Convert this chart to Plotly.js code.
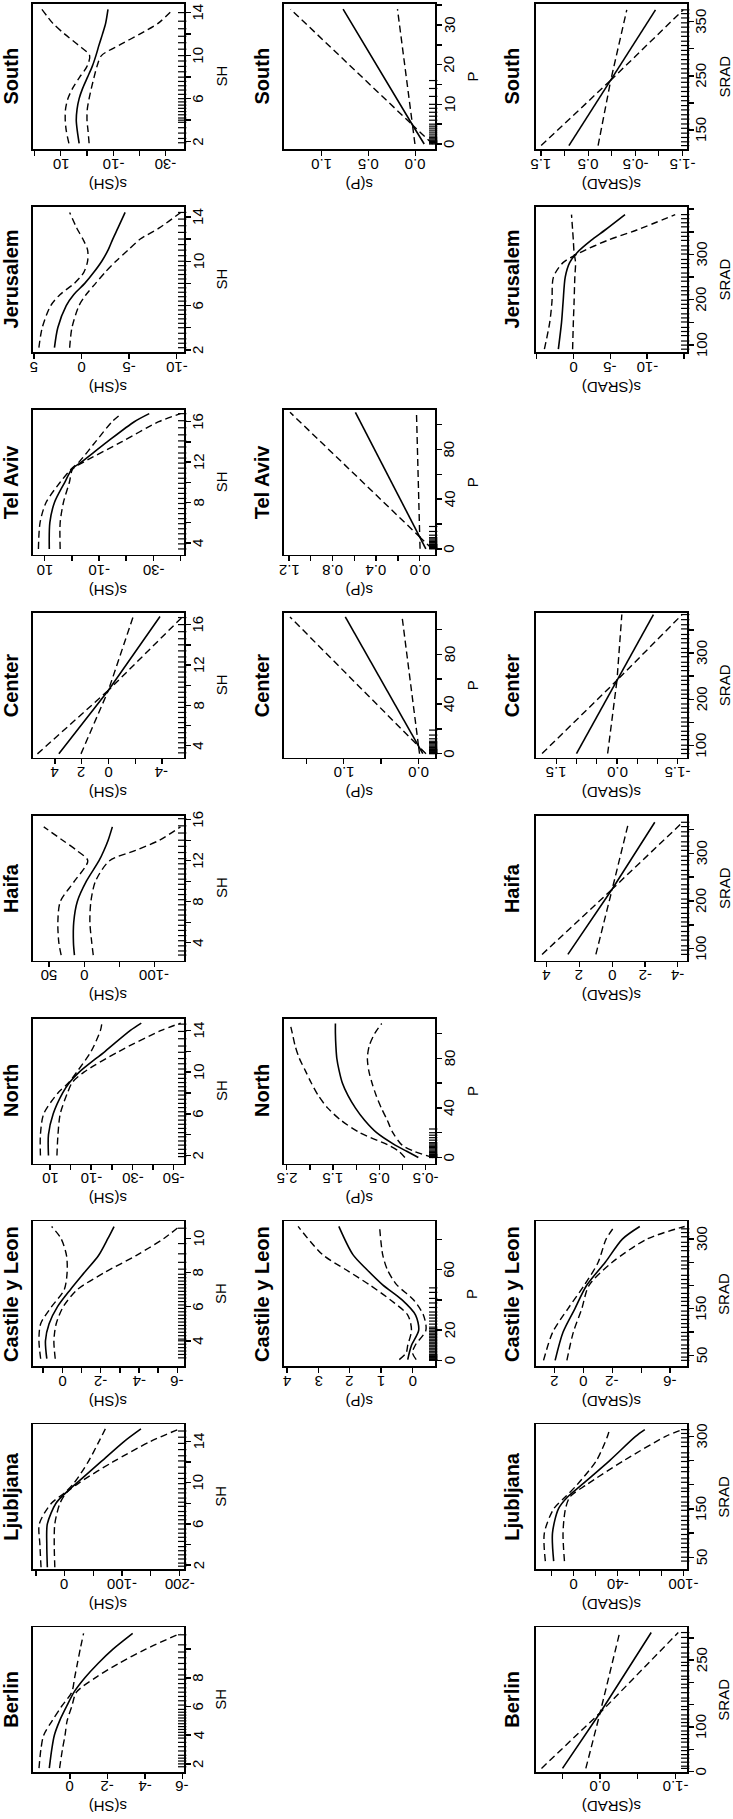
<!DOCTYPE html>
<html>
<head>
<meta charset="utf-8">
<script src="https://cdn.plot.ly/plotly-3.0.1.min.js"></script>
<style>
  body { margin: 0; background: #fff; }
  #fig { width: 733px; height: 1819px; }
</style>
</head>
<body>
<div id="fig"></div>
<script>
/*
 * GAM smooth terms s(SH), s(P), s(SRAD) per city, figure turned a quarter
 * turn: the covariate runs up the right side, the smooth runs right-to-left.
 * Solid = fit, dashed = the two confidence bands, ticks = data rug.
*/

// ---- SH row ----
var berSH_x   = [1.7, 3, 4, 5, 6, 7, 8, 9, 10, 11.1];
var berSH_fit = [1.1, 0.97, 0.83, 0.55, 0.18, -0.22, -0.8, -1.5, -2.3, -3.35];
var berSH_hi  = [1.65, 1.55, 1.4, 0.95, 0.45, -0.1, -0.25, -0.4, -0.55, -0.73];
var berSH_lo  = [0.55, 0.4, 0.26, 0.15, -0.1, -0.35, -1.35, -2.6, -4.05, -5.9];
var berSH_rug = [1.8,2.0,2.2,2.4,2.6,2.9,3.2,3.5,3.8,4.0,4.2,4.4,4.6,4.8,5.0,5.2,5.4,5.6,5.8,6.1,6.4,6.7,7.0,7.3,7.6,7.9,8.2,8.6,9.0,9.4,9.8,10.3,11.0];

var ljuSH_x   = [1.8, 4, 6, 8, 9, 10, 12, 14, 15.2];
var ljuSH_fit = [30, 31, 30, 15, -2, -22, -63, -104, -133];
var ljuSH_hi  = [41, 43, 44, 23, 0, -17, -41, -60, -71];
var ljuSH_lo  = [17, 18, 17, 8, -3, -26, -84, -150, -200];
var ljuSH_rug = [1.9,2.2,2.6,3.0,3.4,3.8,4.3,4.7,5.1,5.5,6.0,6.4,6.8,7.2,7.7,8.1,8.5,9.0,9.4,9.9,10.4,10.9,11.5,12.1,12.6,13.2,13.8,14.4,15.0];

var casSH_x   = [2.95, 4, 5, 6, 7, 8, 9, 10, 10.7];
var casSH_fit = [0.81, 0.88, 0.69, 0.25, -0.42, -1.15, -1.89, -2.38, -2.7];
var casSH_hi  = [1.13, 1.22, 1.13, 0.56, -0.1, -0.25, -0.22, 0.07, 0.56];
var casSH_lo  = [0.37, 0.44, 0.32, -0.05, -0.78, -2.2, -3.85, -5.3, -6.1];
var casSH_rug = [3.0,3.2,3.4,3.6,3.8,4.0,4.1,4.3,4.5,4.7,4.9,5.1,5.3,5.5,5.7,5.9,6.1,6.3,6.5,6.7,6.9,7.1,7.3,7.5,7.7,7.9,8.2,8.6,9.1,9.7,10.6];

var norSH_x   = [2, 4, 6, 8, 9, 10, 12, 14, 14.7];
var norSH_fit = [10.7, 10.7, 8.4, 3.8, 0.5, -4.2, -16.8, -29, -34.3];
var norSH_hi  = [14.6, 14.6, 13, 6.1, 0.85, -3, -10, -14.5, -15.2];
var norSH_lo  = [6.6, 6.1, 5, 1.5, -0.8, -6.5, -23.6, -44, -53.4];
var norSH_rug = [1.9,2.2,2.6,3.0,3.4,3.8,4.2,4.6,5.0,5.4,5.8,6.2,6.6,7.0,7.4,7.8,8.2,8.6,9.0,9.4,9.8,10.3,10.8,11.3,11.9,12.5,13.2,13.9,14.6];

var haiSH_x   = [2.8, 4, 6, 8, 10, 12, 13, 14, 15.3];
var haiSH_fit = [14, 15.4, 15, 10, -3, -21, -28, -34, -40];
var haiSH_hi  = [32.9, 36.2, 37.6, 34.2, 14, -5, 10.7, 30.9, 57.7];
var haiSH_lo  = [-12.8, -10.7, -8, -9.4, -16, -36, -73, -107, -137];
var haiSH_rug = [2.8,3.2,3.7,4.2,4.7,5.2,5.7,6.2,6.7,7.2,7.7,8.2,8.7,9.2,9.7,10.2,10.7,11.2,11.7,12.2,12.8,13.4,14.0,14.7,15.4,16.1];

var cenSH_x   = [3.2, 9.5, 16.8];
var cenSH_fit = [3.7, 0, -3.85];
var cenSH_hi  = [5.3, 0, -1.85];
var cenSH_lo  = [2.05, 0, -5.55];
var cenSH_rug = [3.3,3.8,4.3,4.8,5.3,5.8,6.3,6.8,7.3,7.8,8.3,8.8,9.3,9.8,10.3,10.8,11.3,11.8,12.3,12.8,13.4,14.0,14.6,15.3,16.0,16.7];

var telSH_x   = [3.4, 6, 8, 10, 11.3, 12, 14, 16, 16.8];
var telSH_fit = [8.3, 8.1, 6.4, 2.6, 0, -3.5, -13, -23, -28.5];
var telSH_hi  = [12.3, 11.7, 9.5, 4.3, 0.3, -2.6, -8.7, -14.8, -18.3];
var telSH_lo  = [4.3, 4.3, 3.1, 0.9, -0.3, -4.3, -18.3, -32, -40];
var telSH_rug = [3.4,3.9,4.4,4.9,5.4,5.9,6.4,6.9,7.4,7.9,8.4,8.9,9.4,9.9,10.4,10.9,11.4,11.9,12.4,12.9,13.5,14.1,14.7,15.4,16.1,16.8];

var jerSH_x   = [2.2, 4, 6, 7, 8, 9, 10, 11, 12, 13, 14.4];
var jerSH_fit = [2.84, 2.49, 1.6, 0.8, -0.35, -1.3, -2.14, -2.8, -3.3, -3.85, -4.6];
var jerSH_hi  = [4.48, 4.13, 3.23, 2.24, 0.75, -0.25, -0.65, -0.65, -0.15, 0.5, 1.24];
var jerSH_lo  = [1.24, 1.0, 0.25, -0.5, -1.49, -2.49, -3.63, -4.9, -6.2, -8.2, -10.45];
var jerSH_rug = [2.2,2.6,3.0,3.5,4.0,4.4,4.8,5.2,5.6,6.0,6.4,6.8,7.2,7.6,8.0,8.4,8.8,9.2,9.6,10.0,10.5,11.0,11.5,12.0,12.6,13.2,13.8,14.4];

var souSH_x   = [1.85, 3, 4, 5, 6, 7, 8, 9, 10, 11, 12, 13, 14.3];
var souSH_fit = [3.0, 3.7, 4.1, 3.8, 3.0, 1.6, -0.2, -2.0, -3.4, -4.6, -5.9, -7.1, -8.0];
var souSH_hi  = [6.9, 7.9, 8.3, 8.2, 7.3, 5.4, 2.8, 0.0, -1.0, 3.4, 8.5, 13, 17.2];
var souSH_lo  = [-0.8, -0.4, 0, -0.1, -0.8, -1.7, -2.7, -3.8, -5.5, -12.5, -20.1, -27.1, -32.9];
var souSH_rug = [1.9,2.3,2.8,3.3,3.8,4.0,4.2,4.5,4.8,5.1,5.4,5.7,6.0,6.4,6.8,7.2,7.6,8.0,8.5,9.0,9.5,10.0,10.6,11.2,11.8,12.5,13.2,14.0];

// ---- P row ----
var casP_x   = [0.5, 5, 10, 20, 30, 40, 50, 60, 70, 88.7];
var casP_fit = [0.15, 0.1, 0.03, -0.2, -0.1, 0.33, 0.95, 1.45, 1.9, 2.35];
var casP_hi  = [0.42, 0.2, 0.15, 0.03, 0.15, 0.7, 1.37, 2.12, 2.87, 3.65];
var casP_lo  = [-0.12, 0.0, -0.09, -0.43, -0.35, -0.04, 0.5, 0.8, 0.95, 1.05];
var casP_rug = [0,0.2,0.5,1,1.5,2,2.5,3,3.5,4,5,6,7,8,9,10,11,12,13,14,15,16,17,18,19,20,21,22,24,26,28,30,32,35,38,41,45,48];

var norP_x   = [0, 5, 10, 20, 30, 40, 50, 60, 70, 80, 90, 100, 108];
var norP_fit = [-0.34, -0.09, 0.16, 0.56, 0.82, 1.02, 1.18, 1.3, 1.37, 1.42, 1.44, 1.45, 1.45];
var norP_hi  = [-0.05, 0.08, 0.31, 0.92, 1.33, 1.62, 1.82, 1.97, 2.1, 2.23, 2.32, 2.38, 2.43];
var norP_lo  = [-0.65, -0.25, 0.01, 0.21, 0.33, 0.46, 0.57, 0.66, 0.73, 0.76, 0.72, 0.6, 0.45];
var norP_rug = [0,0.2,0.5,1,1.5,2,2.5,3,4,5,6,7,8,9,10,11,12,14,16,18,20,23];

var cenP_x   = [0, 6, 110];
var cenP_fit = [-0.057, 0, 0.98];
var cenP_hi  = [-0.013, 0, 1.72];
var cenP_lo  = [-0.099, 0, 0.22];
var cenP_rug = [0,0.3,0.6,1,1.5,2,2.5,3,3.5,4,5,6,7,8,9,10,12,15,19];

var telP_x   = [0, 9.6, 110];
var telP_fit = [-0.056, 0, 0.59];
var telP_hi  = [-0.003, 0, 1.19];
var telP_lo  = [-0.113, 0, 0.03];
var telP_rug = [0,0.3,0.6,1,1.5,2,2.5,3,3.5,4,5,6,7,8,9,11,14,18];

var souP_x   = [0, 4.8, 34];
var souP_fit = [-0.095, 0.03, 0.77];
var souP_hi  = [0.004, 0.03, 1.33];
var souP_lo  = [-0.185, 0.03, 0.19];
var souP_rug = [0,0.2,0.4,0.6,0.8,1,1.3,1.6,2,2.5,3,3.5,4,4.5,5,6,7,8,9,10,12,14,16];

// ---- SRAD row ----
var berSR_x   = [7, 132, 312];
var berSR_fit = [0.5, 0.0, -0.68];
var berSR_hi  = [0.78, 0.0, -0.26];
var berSR_lo  = [0.19, 0.0, -1.04];
var berSR_rug = [7,12,21,30,38,47,55,66,74,83,91,102,110,118,127,139,146,158,165,177,188,196,207,214,226,238,245,257,266,279,288,301,312];

var ljuSR_x   = [42, 100, 150, 175, 200, 250, 300, 314];
var ljuSR_fit = [17.9, 19, 13.6, 5.1, -7.7, -33, -56.6, -65];
var ljuSR_hi  = [25.5, 26.4, 17.9, 7.2, -3.4, -21, -31, -33];
var ljuSR_lo  = [8.1, 9.4, 7.2, 3, -12, -46, -84, -99];
var ljuSR_rug = [42,50,61,70,79,88,97,108,117,126,135,147,156,164,175,186,193,205,214,227,236,248,257,266,279,288,297,306,314];

var casSR_x   = [39, 100, 150, 200, 250, 300, 327];
var casSR_fit = [1.94, 1.39, 0.58, -0.23, -1.52, -2.7, -3.9];
var casSR_hi  = [2.74, 2.1, 1.06, -0.06, -1.03, -1.58, -2.16];
var casSR_lo  = [1.13, 0.68, 0.1, -0.39, -2.0, -4.4, -7.0];
var casSR_rug = [39,46,55,64,72,83,91,99,110,118,127,136,145,157,166,174,183,195,204,213,222,236,244,253,262,275,284,293,305,314,322];

var haiSR_x   = [88, 225, 365];
var haiSR_fit = [2.71, 0, -2.6];
var haiSR_hi  = [4.29, 0, -1.0];
var haiSR_lo  = [1.0, 0, -4.3];
var haiSR_rug = [88,97,106,118,127,136,147,156,165,174,186,195,204,216,225,234,246,255,264,276,285,294,306,315,324,336,345,356,365];

var cenSR_x   = [83, 241, 383];
var cenSR_fit = [1.0, 0, -0.9];
var cenSR_hi  = [1.85, 0, -0.12];
var cenSR_lo  = [0.23, 0, -1.61];
var cenSR_rug = [83,92,101,113,122,131,142,151,160,172,181,190,202,211,220,232,241,250,262,271,280,292,301,310,322,331,340,352,361,372,383];

var jerSR_x   = [91, 150, 195, 250, 282, 304, 331, 354, 388];
var jerSR_fit = [2.03, 1.6, 1.39, 1.1, 0.5, -0.5, -2.4, -4.3, -7.0];
var jerSR_hi  = [3.92, 3.2, 2.9, 2.7, 1.4, -0.9, -4.6, -8.6, -13.8];
var jerSR_lo  = [0.1, 0.0, -0.1, -0.2, -0.3, -0.1, 0.0, 0.1, 0.25];
var jerSR_rug = [91,100,109,121,130,139,151,160,169,181,190,199,211,220,229,241,250,259,271,280,289,301,310,319,331,340,349,361,370,379,388];

var souSR_x   = [121, 242, 372];
var souSR_fit = [0.91, 0.02, -0.93];
var souSR_hi  = [1.5, 0.02, -0.32];
var souSR_lo  = [0.29, 0.02, -1.52];
var souSR_rug = [121,128,136,144,153,161,170,178,187,195,204,212,221,229,238,246,255,263,272,280,289,297,306,314,323,331,340,348,357,365,372];

// city order top to bottom (the figure is turned, Berlin ends up at the bottom)
var cities = ['South', 'Jerusalem', 'Tel Aviv', 'Center', 'Haifa', 'North', 'Castile y Leon', 'Ljubljana', 'Berlin'];
var covars = ['SH', 'P', 'SRAD'];

// panel table: curves + axis ranges (vr = covariate, sr = smooth) and ticks
var panels = [
  {city:'Berlin', v:'SH', x:berSH_x, fit:berSH_fit, a:berSH_hi, b:berSH_lo, rug:berSH_rug,
   vr:[1.42, 11.53], vt:[2,4,6,8,10], vl:['2','4','6','8'], sr:[1.97, -6.09], st:[0,-2,-4,-6], sl:['0','-2','-4','-6']},
  {city:'Ljubljana', v:'SH', x:ljuSH_x, fit:ljuSH_fit, a:ljuSH_hi, b:ljuSH_lo, rug:ljuSH_rug,
   vr:[1.6, 15.65], vt:[2,4,6,8,10,12,14], vl:['2','6','10','14'], sr:[55, -208], st:[50,0,-50,-100,-150,-200], sl:['0','-100','-200']},
  {city:'Castile y Leon', v:'SH', x:casSH_x, fit:casSH_fit, a:casSH_hi, b:casSH_lo, rug:casSH_rug,
   vr:[2.5, 11.0], vt:[4,6,8,10], vl:['4','6','8','10'], sr:[1.53, -6.35], st:[1,0,-1,-2,-3,-4,-5,-6], sl:['0','-2','-4','-6']},
  {city:'North', v:'SH', x:norSH_x, fit:norSH_fit, a:norSH_hi, b:norSH_lo, rug:norSH_rug,
   vr:[1.24, 15.14], vt:[2,4,6,8,10,12,14], vl:['2','6','10','14'], sr:[18.2, -55], st:[10,0,-10,-20,-30,-40,-50], sl:['10','-10','-30','-50']},
  {city:'Haifa', v:'SH', x:haiSH_x, fit:haiSH_fit, a:haiSH_hi, b:haiSH_lo, rug:haiSH_rug,
   vr:[2.26, 16.4], vt:[4,6,8,10,12,14,16], vl:['4','8','12','16'], sr:[73, -142], st:[50,0,-50,-100], sl:['50','0','-100']},
  {city:'Center', v:'SH', x:cenSH_x, fit:cenSH_fit, a:cenSH_hi, b:cenSH_lo, rug:cenSH_rug,
   vr:[2.82, 17.18], vt:[4,6,8,10,12,14,16], vl:['4','8','12','16'], sr:[5.63, -5.64], st:[4,2,0,-2,-4], sl:['4','2','0','-4']},
  {city:'Tel Aviv', v:'SH', x:telSH_x, fit:telSH_fit, a:telSH_hi, b:telSH_lo, rug:telSH_rug,
   vr:[2.82, 17.18], vt:[4,6,8,10,12,14,16], vl:['4','8','12','16'], sr:[14.3, -41.3], st:[10,0,-10,-20,-30,-40], sl:['10','-10','-30']},
  {city:'Jerusalem', v:'SH', x:jerSH_x, fit:jerSH_fit, a:jerSH_hi, b:jerSH_lo, rug:jerSH_rug,
   vr:[1.82, 14.9], vt:[2,4,6,8,10,12,14], vl:['2','6','10','14'], sr:[5.1, -10.8], st:[5,0,-5,-10], sl:['5','0','-5','-10']},
  {city:'South', v:'SH', x:souSH_x, fit:souSH_fit, a:souSH_hi, b:souSH_lo, rug:souSH_rug,
   vr:[1.32, 14.8], vt:[2,4,6,8,10,12,14], vl:['2','6','10','14'], sr:[20.6, -37], st:[20,10,0,-10,-20,-30], sl:['10','-10','-30']},

  {city:'Castile y Leon', v:'P', x:casP_x, fit:casP_fit, a:casP_hi, b:casP_lo, rug:casP_rug,
   vr:[-4, 92], vt:[0,20,40,60,80], vl:['0','20','60'], sr:[4.1, -0.72], st:[4,3,2,1,0], sl:['4','3','2','1','0']},
  {city:'North', v:'P', x:norP_x, fit:norP_fit, a:norP_hi, b:norP_lo, rug:norP_rug,
   vr:[-4.8, 112], vt:[0,20,40,60,80,100], vl:['0','40','80'], sr:[2.56, -0.70], st:[2.5,2,1.5,1,0.5,0,-0.5], sl:['2.5','1.5','0.5','-0.5']},
  {city:'Center', v:'P', x:cenP_x, fit:cenP_fit, a:cenP_hi, b:cenP_lo, rug:cenP_rug,
   vr:[-3.2, 113.4], vt:[0,20,40,60,80,100], vl:['0','40','80'], sr:[1.8, -0.22], st:[1.5,1,0.5,0], sl:['1.0','0.0']},
  {city:'Tel Aviv', v:'P', x:telP_x, fit:telP_fit, a:telP_hi, b:telP_lo, rug:telP_rug,
   vr:[-4.8, 112], vt:[0,20,40,60,80,100], vl:['0','40','80'], sr:[1.245, -0.14], st:[1.2,1,0.8,0.6,0.4,0.2,0], sl:['1.2','0.8','0.4','0.0']},
  {city:'South', v:'P', x:souP_x, fit:souP_fit, a:souP_hi, b:souP_lo, rug:souP_rug,
   vr:[-1.26, 35.3], vt:[0,5,10,15,20,25,30,35], vl:['0','10','20','30'], sr:[1.40, -0.21], st:[1,0.5,0], sl:['1.0','0.5','0.0']},

  {city:'Berlin', v:'SRAD', x:berSR_x, fit:berSR_fit, a:berSR_hi, b:berSR_lo, rug:berSR_rug,
   vr:[-1.5, 324], vt:[0,50,100,150,200,250,300], vl:['0','100','250'], sr:[0.853, -1.156], st:[0.5,0,-0.5,-1], sl:['0.0','-1.0']},
  {city:'Ljubljana', v:'SRAD', x:ljuSR_x, fit:ljuSR_fit, a:ljuSR_hi, b:ljuSR_lo, rug:ljuSR_rug,
   vr:[25, 325], vt:[50,100,150,200,250,300], vl:['50','150','300'], sr:[34, -103.4], st:[20,0,-20,-40,-60,-80,-100], sl:['0','-40','-100']},
  {city:'Castile y Leon', v:'SRAD', x:casSR_x, fit:casSR_fit, a:casSR_hi, b:casSR_lo, rug:casSR_rug,
   vr:[26, 338], vt:[50,100,150,200,250,300], vl:['50','150','300'], sr:[3.26, -7.16], st:[2,0,-2,-4,-6], sl:['2','0','-2','-6']},
  {city:'Haifa', v:'SRAD', x:haiSR_x, fit:haiSR_fit, a:haiSR_hi, b:haiSR_lo, rug:haiSR_rug,
   vr:[75, 379], vt:[100,150,200,250,300,350], vl:['100','200','300'], sr:[4.66, -4.57], st:[4,2,0,-2,-4], sl:['4','2','0','-2','-4']},
  {city:'Center', v:'SRAD', x:cenSR_x, fit:cenSR_fit, a:cenSR_hi, b:cenSR_lo, rug:cenSR_rug,
   vr:[74, 387], vt:[100,150,200,250,300,350], vl:['100','200','300'], sr:[2.0, -1.73], st:[1.5,1,0.5,0,-0.5,-1,-1.5], sl:['1.5','0.0','-1.5']},
  {city:'Jerusalem', v:'SRAD', x:jerSR_x, fit:jerSR_fit, a:jerSR_hi, b:jerSR_lo, rug:jerSR_rug,
   vr:[85, 405], vt:[100,150,200,250,300,350,400], vl:['100','200','300'], sr:[5.06, -15.4], st:[5,0,-5,-10,-15], sl:['0','-5','-10']},
  {city:'South', v:'SRAD', x:souSR_x, fit:souSR_fit, a:souSR_hi, b:souSR_lo, rug:souSR_rug,
   vr:[114.7, 382.8], vt:[150,200,250,300,350], vl:['150','250','350'], sr:[1.61, -1.6], st:[1.5,1,0.5,0,-0.5,-1,-1.5], sl:['1.5','0.5','-0.5','-1.5']}
];

// page geometry (pixels)
var W = 733, H = 1819;
var colLeft = [33, 284, 536];
var titleX = [11, 262, 512];
var panelW = 151, panelH = 145;
var rowTop0 = 4, rowStep = 202.9;
var FONT = 'Liberation Sans, Arial, Helvetica, sans-serif';
var TICK_FONT = {family: FONT, size: 15, color: 'black'};
var LABEL_FONT = {family: FONT, size: 15, color: 'black'};

var data = [];
var layout = {
  width: W, height: H,
  margin: {l:0, r:0, t:0, b:0},
  showlegend: false,
  paper_bgcolor: 'white', plot_bgcolor: 'white',
  font: {family: FONT, color: 'black', size: 13},
  annotations: []
};

// every annotation is centred on its point (the default 'auto' anchors
// drift towards the page edges)
function note(opts){
  layout.annotations.push(Object.assign({showarrow: false, xanchor: 'center', yanchor: 'middle'}, opts));
}

panels.forEach(function(p, i){
  var n = i + 1;
  var sfx = n > 1 ? String(n) : '';
  var col = covars.indexOf(p.v);
  var row = cities.indexOf(p.city);
  var x0 = colLeft[col], x1 = x0 + panelW;
  var y0 = rowTop0 + row*rowStep, y1 = y0 + panelH;
  var xa = 'x' + sfx, ya = 'y' + sfx;

  var axisCommon = {
    showgrid: false, zeroline: false,
    showline: true, mirror: true, linecolor: 'black', linewidth: 1.6,
    ticks: 'outside', ticklen: 5, tickwidth: 1.4, tickcolor: 'black',
    tickmode: 'array', showticklabels: false,
    fixedrange: true, automargin: false
  };
  layout['xaxis' + sfx] = Object.assign({}, axisCommon, {
    domain: [x0/W, x1/W], anchor: ya, range: p.sr, tickvals: p.st
  });
  layout['yaxis' + sfx] = Object.assign({}, axisCommon, {
    domain: [1 - y1/H, 1 - y0/H], anchor: xa, side: 'right', range: p.vr, tickvals: p.vt
  });

  // straight three-point panels keep their crossing lines; smooth the rest
  var shape = p.x.length > 3 ? 'spline' : 'linear';
  [p.a, p.b].forEach(function(band){
    data.push({x: band, y: p.x, xaxis: xa, yaxis: ya, mode: 'lines', hoverinfo: 'skip',
               line: {color: 'black', width: 1.4, dash: '7px,4px', shape: shape, smoothing: 0.8}});
  });
  data.push({x: p.fit, y: p.x, xaxis: xa, yaxis: ya, mode: 'lines', hoverinfo: 'skip',
             line: {color: 'black', width: 1.6, shape: shape, smoothing: 0.8}});

  // rug just inside the right frame line
  var rugPos = p.sr[1] + (p.sr[0] - p.sr[1])*0.012;
  data.push({x: p.rug.map(function(){ return rugPos; }), y: p.rug, xaxis: xa, yaxis: ya,
             mode: 'markers', hoverinfo: 'skip', cliponaxis: false,
             marker: {symbol: 'line-ew', size: 6, color: 'black', line: {color: 'black', width: 1.2}}});

  // tick labels, turned with the figure (smooth axis upside down, covariate reads upward)
  p.sl.forEach(function(s){
    note({xref: xa, yref: 'paper', x: parseFloat(s), y: 1 - (y1 + 15)/H,
          text: s, textangle: 180, font: TICK_FONT});
  });
  p.vl.forEach(function(s){
    note({xref: 'paper', yref: ya, x: (x1 + 14)/W, y: parseFloat(s),
          text: s, textangle: -90, font: TICK_FONT});
  });

  // panel title and axis titles
  note({xref: 'paper', yref: 'paper', x: titleX[col]/W, y: 1 - (y0 + panelH/2)/H,
        text: '<b>' + p.city + '</b>', textangle: -90,
        font: {family: FONT, size: 20, color: 'black'}});
  note({xref: 'paper', yref: 'paper', x: (x0 + x1)/2/W, y: 1 - (y1 + 35)/H,
        text: 's(' + p.v + ')', textangle: 180, font: LABEL_FONT});
  note({xref: 'paper', yref: 'paper', x: (x1 + 37)/W, y: 1 - (y0 + panelH/2)/H,
        text: p.v, textangle: -90, font: LABEL_FONT});
});

Plotly.newPlot('fig', data, layout, {staticPlot: true});
</script>
</body>
</html>
